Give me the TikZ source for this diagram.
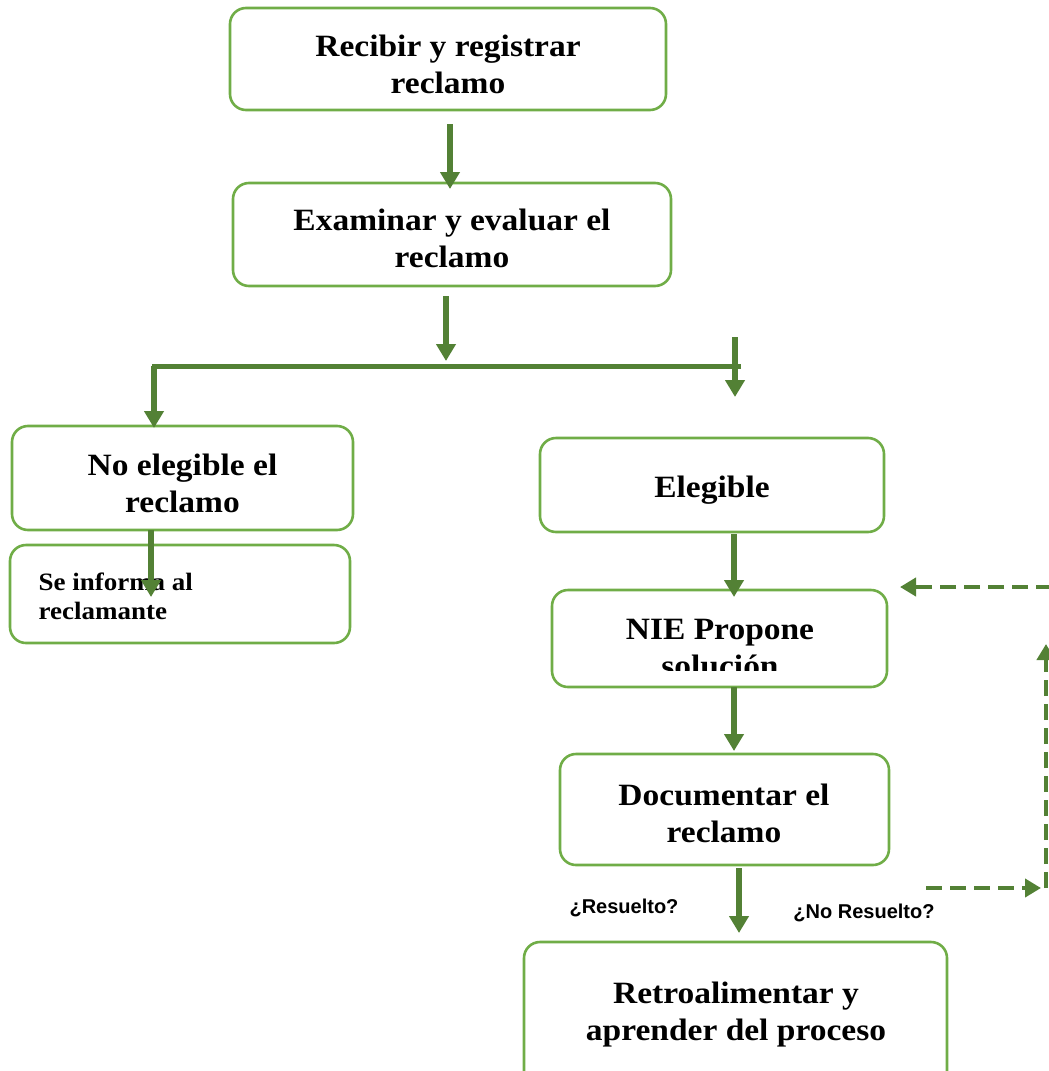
\documentclass[tikz,border=0pt]{standalone}
\usepackage{fontspec}
\setmainfont{Liberation Serif}[FakeStretch=1.08]
\newfontfamily\lblfont{Liberation Sans}
\usetikzlibrary{arrows.meta}
\definecolor{boxgreen}{HTML}{70AD47}
\definecolor{arrgreen}{HTML}{538135}
\tikzset{
  box/.style={draw=boxgreen, line width=2.6pt, rounded corners=16pt, fill=white, inner sep=0pt},
  boxtxt/.style={font=\fontsize{31}{37}\selectfont\bfseries, align=center, text=black},
  smalltxt/.style={font=\fontsize{25}{29}\selectfont\bfseries, align=left, text=black},
  lbl/.style={font=\lblfont\fontsize{20}{24}\selectfont\bfseries, text=black},
  flow/.style={draw=arrgreen, line width=5.5pt, -{Triangle[width=19pt,length=17pt]}},
  plainline/.style={draw=arrgreen, line width=5pt},
  dflow/.style={draw=arrgreen, line width=4.5pt, dash pattern=on 16pt off 8pt, -{Triangle[width=18pt,length=16pt]}}
}
\begin{document}
\begin{tikzpicture}[x=1pt,y=-1pt]
\useasboundingbox (0,0) rectangle (1049,1071);
\begin{scope}
\clip (0,0) rectangle (1049,1071);
% boxes
\node[box, minimum width=436pt, minimum height=102pt] (b1) at (448,59) {};
\node[boxtxt] (t1) at (448,64) {Recibir y registrar\\reclamo};
\node[box, minimum width=438pt, minimum height=103pt] (b2) at (452,234.5) {};
\node[boxtxt] (t2) at (452,238) {Examinar y evaluar el\\reclamo};
\node[box, minimum width=341pt, minimum height=104pt] (b3) at (182.5,478) {};
\node[boxtxt] (t3) at (182.5,483) {No elegible el\\reclamo};
\node[box, minimum width=340pt, minimum height=98pt] (b4) at (180,594) {};
\node[smalltxt, anchor=west] (t4) at (35,596) {Se informa al\\reclamante};
\node[box, minimum width=344pt, minimum height=94pt] (b5) at (712,485) {};
\node[boxtxt] (t5) at (712,490) {Elegible};
\node[box, minimum width=335pt, minimum height=97pt] (b6) at (719.5,638.5) {};
\begin{scope}
\clip (552,590) rectangle (887,670);
\node[boxtxt] (t6) at (720,648) {NIE Propone\\solución};
\end{scope}
\node[box, minimum width=329pt, minimum height=111pt] (b7) at (724.5,809.5) {};
\node[boxtxt] (t7) at (724,813) {Documentar el\\reclamo};
\node[box, minimum width=423pt, minimum height=150pt] (b8) at (735.5,1017) {};
\node[boxtxt] (t8) at (736,1015) {Retroalimentar y\\aprender del proceso};
% labels
\node[lbl] (l1) at (624,908) {¿Resuelto?};
\node[lbl] (l2) at (864,913) {¿No Resuelto?};
% coordinates
\coordinate (a1s) at (450,124);
\coordinate (a1e) at (450,189);
\coordinate (a2s) at (446,296);
\coordinate (a2e) at (446,361);
\coordinate (hl) at (154,366);
\coordinate (hr) at (741,366);
\coordinate (lend) at (154,428);
\coordinate (rs) at (735,337);
\coordinate (re) at (735,397);
\coordinate (ns) at (151,530);
\coordinate (ne) at (151,597);
\coordinate (es) at (734,534);
\coordinate (ee) at (734,597);
\coordinate (ps) at (734,687);
\coordinate (pe) at (734,751);
\coordinate (ds) at (739,868);
\coordinate (de) at (739,933);
\coordinate (d1s) at (926,888);
\coordinate (d1e) at (1041,888);
\coordinate (d2s) at (1046,888);
\coordinate (d2e) at (1046,644);
\coordinate (d3s) at (1052,587);
\coordinate (d3e) at (900,587);
% connectors
\draw[flow] (a1s) -- (a1e);
\draw[flow] (a2s) -- (a2e);
\draw[plainline] (hr) -- (hl) -- ++(0,-2.5);
\draw[flow] (hl) -- (lend);
\draw[flow] (rs) -- (re);
\draw[flow] (ns) -- (ne);
\draw[flow] (es) -- (ee);
\draw[flow] (ps) -- (pe);
\draw[flow] (ds) -- (de);
\draw[dflow] (d1s) -- (d1e);
\draw[dflow] (d2s) -- (d2e);
\draw[dflow] (d3s) -- (d3e);
\end{scope}
\end{tikzpicture}
\end{document}
